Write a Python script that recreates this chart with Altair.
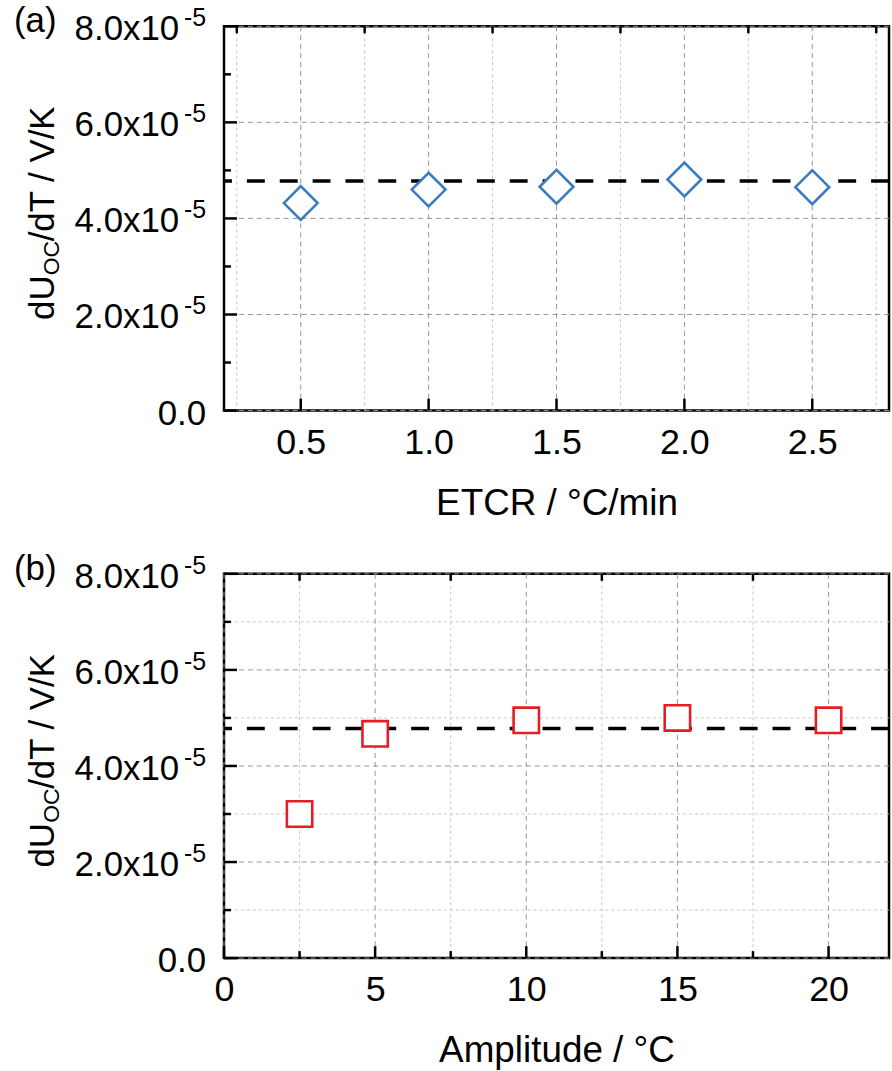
import altair as alt
import pandas as pd

FONT = "Liberation Sans"

# ---- data ----
etcr = [0.5, 1.0, 1.5, 2.0, 2.5]
etcr_du = [4.32e-5, 4.60e-5, 4.66e-5, 4.81e-5, 4.65e-5]
amp = [2.5, 5, 10, 15, 20]
amp_du = [3.00e-5, 4.67e-5, 4.95e-5, 5.00e-5, 4.95e-5]
ref_value = 4.78e-5

y_ticks = [0, 2e-5, 4e-5, 6e-5, 8e-5]
y_minor = [1e-5, 3e-5, 5e-5, 7e-5]
y_main = ["0.0", "2.0x10", "4.0x10", "6.0x10", "8.0x10"]
y_sup = ["", "-5", "-5", "-5", "-5"]
y_domain = [0, 8e-5]

a_xticks = [0.5, 1.0, 1.5, 2.0, 2.5]
a_xminor = [0.25, 0.75, 1.25, 1.75, 2.25, 2.75]
a_domain = [0.2, 2.8]
b_xticks = [0, 5, 10, 15, 20]
b_xminor = [2.5, 7.5, 12.5, 17.5]
b_domain = [0, 22]

y_title_parts = ["dU", "OC", "/dT / V/K"]

W, H = 668, 386
BLUE = "#3a7dbe"
RED = "#e41e24"


def panel(xs, ys, xdomain, xticks, xminor, xtitle, xfmt, shape, color, size,
          label, minor_hgrid, bottom_minor):
    xs_ = alt.Scale(domain=xdomain, nice=False, zero=False)
    ys_ = alt.Scale(domain=y_domain, nice=False, zero=False)
    xaxis = alt.Axis(
        values=xticks, format=xfmt, labelFont=FONT, labelFontSize=36,
        labelColor="black", labelPadding=15, tickSize=0, ticks=False,
        domain=False, grid=False, labelFlush=False, labelOverlap=False,
        title=xtitle, titleFont=FONT, titleFontSize=37,
        titleFontWeight="normal", titleColor="black", titlePadding=25)
    layers = []

    def xenc():
        return alt.X("x:Q", scale=xs_, axis=xaxis, title=xtitle)

    def yenc():
        return alt.Y("y:Q", scale=ys_, axis=None)

    # grid
    layers.append(alt.Chart(pd.DataFrame({"x": xminor})).mark_rule(
        color="#c8c8c8", strokeDash=[3, 3], strokeWidth=1).encode(x=xenc()))
    if minor_hgrid:
        layers.append(alt.Chart(pd.DataFrame({"y": y_minor})).mark_rule(
            color="#c8c8c8", strokeDash=[3, 3], strokeWidth=1).encode(y=yenc()))
    layers.append(alt.Chart(pd.DataFrame({"x": xticks})).mark_rule(
        color="#969696", strokeDash=[5, 4], strokeWidth=1).encode(x=xenc()))
    layers.append(alt.Chart(pd.DataFrame({"y": y_ticks})).mark_rule(
        color="#969696", strokeDash=[5, 4], strokeWidth=1).encode(y=yenc()))
    # reference line
    layers.append(alt.Chart(pd.DataFrame({"y": [ref_value]})).mark_rule(
        color="black", strokeDash=[18, 15], strokeWidth=3.5).encode(y=yenc()))
    # ticks (inward)
    layers.append(alt.Chart(pd.DataFrame({"x": xticks})).mark_rule(
        color="black", strokeWidth=2.5).encode(
        x=xenc(), y=alt.value(H), y2=alt.value(H - 12)))
    layers.append(alt.Chart(pd.DataFrame({"x": xminor})).mark_rule(
        color="black", strokeWidth=2.5).encode(
        x=xenc(), y=alt.value(0), y2=alt.value(7)))
    if bottom_minor:
        layers.append(alt.Chart(pd.DataFrame({"x": xminor})).mark_rule(
            color="black", strokeWidth=2.5).encode(
            x=xenc(), y=alt.value(H), y2=alt.value(H - 7)))
    layers.append(alt.Chart(pd.DataFrame({"y": y_ticks})).mark_rule(
        color="black", strokeWidth=2.5).encode(
        y=yenc(), x=alt.value(0), x2=alt.value(13)))
    layers.append(alt.Chart(pd.DataFrame({"y": y_minor})).mark_rule(
        color="black", strokeWidth=2.5).encode(
        y=yenc(), x=alt.value(0), x2=alt.value(7)))
    # points
    layers.append(alt.Chart(pd.DataFrame({"x": xs, "y": ys})).mark_point(
        shape=shape, filled=True, fill="white", stroke=color, strokeWidth=2.6,
        size=size, opacity=1).encode(x=xenc(), y=yenc()))
    # y tick labels
    ylab = pd.DataFrame({"y": y_ticks, "main": y_main, "sup": y_sup})
    base = alt.Chart(ylab)
    layers.append(base.transform_filter("datum.sup != ''").mark_text(
        align="right", baseline="middle", font=FONT, fontSize=35,
        color="black", dy=3).encode(x=alt.value(-45), y=yenc(), text="main:N"))
    layers.append(base.transform_filter("datum.sup == ''").mark_text(
        align="right", baseline="middle", font=FONT, fontSize=35,
        color="black", dy=3).encode(x=alt.value(-18), y=yenc(), text="main:N"))
    layers.append(base.transform_filter("datum.sup != ''").mark_text(
        align="right", baseline="middle", font=FONT, fontSize=25,
        color="black", dy=-8).encode(x=alt.value(-18), y=yenc(), text="sup:N"))
    # y title pieces
    tdf = pd.DataFrame({"t": y_title_parts})
    tb = alt.Chart(tdf)
    layers.append(tb.transform_filter(alt.datum.t == y_title_parts[0]).mark_text(
        angle=270, align="left", baseline="middle", font=FONT, fontSize=35,
        color="black").encode(x=alt.value(-182), y=alt.value(295), text="t:N"))
    layers.append(tb.transform_filter(alt.datum.t == y_title_parts[1]).mark_text(
        angle=270, align="left", baseline="middle", font=FONT, fontSize=23,
        color="black").encode(x=alt.value(-173), y=alt.value(250), text="t:N"))
    layers.append(tb.transform_filter(alt.datum.t == y_title_parts[2]).mark_text(
        angle=270, align="left", baseline="middle", font=FONT, fontSize=35,
        color="black").encode(x=alt.value(-182), y=alt.value(216), text="t:N"))
    # panel label
    layers.append(alt.Chart(pd.DataFrame({"t": [label]})).mark_text(
        align="left", baseline="middle", font=FONT, fontSize=35,
        color="black").encode(x=alt.value(-211), y=alt.value(-5), text="t:N"))
    return alt.layer(*layers).properties(width=W, height=H)


pa = panel(etcr, etcr_du, a_domain, a_xticks, a_xminor, "ETCR / °C/min", ".1f",
           "diamond", BLUE, 1150, "(a)", False, False)
pb = panel(amp, amp_du, b_domain, b_xticks, b_xminor, "Amplitude / °C", "d",
           "square", RED, 650, "(b)", True, True)

chart = alt.vconcat(pa, pb, spacing=27).properties(
    padding={"left": 12, "top": 0, "right": 0, "bottom": 0},
    background="white"
).configure_view(stroke="black", strokeWidth=2.5)

chart.save("out.html", embed_options={"renderer": "svg", "actions": False})
